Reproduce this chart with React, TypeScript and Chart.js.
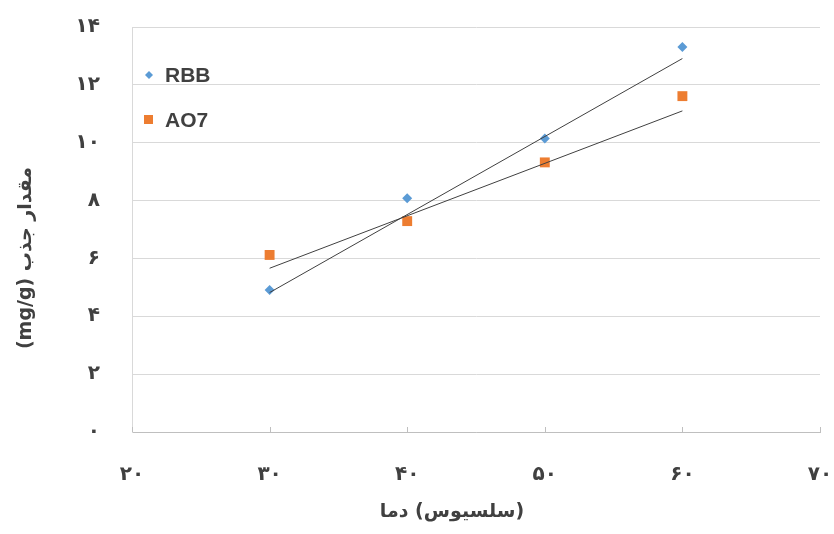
import React, { useEffect, useRef } from "react";
import { Chart, registerables } from "chart.js";

Chart.register(...registerables);

const temperatures = [30, 40, 50, 60];
const rbbValues = [4.91, 8.08, 10.15, 13.31];
const ao7Values = [6.12, 7.29, 9.32, 11.61];
const trendX = [30, 60];
const rbbTrend = [4.82, 12.91];
const ao7Trend = [5.66, 11.1];
const persianDigits = ["۰", "۱", "۲", "۳", "۴", "۵", "۶", "۷", "۸", "۹"];
const xTitle = "دما (سلسیوس)";
const yTitle = "مقدار جذب (mg/g)";
const seriesNames = ["RBB", "AO7"];

const BLUE = "#5b9bd5";
const ORANGE = "#ed7d31";
const TEXT = "#404040";

const toPersian = (v: number | string) =>
  String(v).replace(/[0-9]/g, (d) => persianDigits[Number(d)]);

const zeroPad = (s: any) => {
  s.paddingTop = 0;
  s.paddingBottom = 0;
  s.paddingLeft = 0;
  s.paddingRight = 0;
};

const decorPlugin = {
  id: "decor",
  afterDraw(chart: any) {
    const ctx = chart.ctx;
    const xs = chart.scales.x;
    const area = chart.chartArea;
    ctx.save();
    // small upward tick marks on the x axis
    ctx.strokeStyle = "#bfbfbf";
    ctx.lineWidth = 1;
    xs.ticks.forEach((t: any) => {
      const px = Math.round(xs.getPixelForValue(t.value)) + 0.5;
      ctx.beginPath();
      ctx.moveTo(px, area.bottom);
      ctx.lineTo(px, area.bottom - 5);
      ctx.stroke();
    });
    // legend
    const lx = 149, ly1 = 75, ly2 = 120;
    ctx.fillStyle = BLUE;
    ctx.beginPath();
    ctx.moveTo(lx - 4, ly1);
    ctx.lineTo(lx, ly1 - 4);
    ctx.lineTo(lx + 4, ly1);
    ctx.lineTo(lx, ly1 + 4);
    ctx.closePath();
    ctx.fill();
    ctx.fillStyle = ORANGE;
    ctx.fillRect(lx - 5, ly2 - 5, 9, 9);
    ctx.fillStyle = TEXT;
    ctx.font = "bold 21px 'Liberation Sans', Arial, sans-serif";
    ctx.textAlign = "left";
    ctx.textBaseline = "middle";
    ctx.fillText(seriesNames[0], 165, ly1 + 1);
    ctx.fillText(seriesNames[1], 165, ly2 + 1);
    // axis titles
    ctx.font = "bold 19px 'DejaVu Sans', sans-serif";
    ctx.textAlign = "center";
    ctx.direction = "ltr";
    ctx.fillText(xTitle.replace(" ", "\u200E "), 452, 512);
    ctx.direction = "rtl";
    ctx.translate(26, 258);
    ctx.rotate(-Math.PI / 2);
    ctx.fillText(yTitle, 0, 0);
    ctx.restore();
  },
};

export default function App() {
  const ref = useRef<HTMLCanvasElement>(null);
  useEffect(() => {
    document.body.style.margin = "0";
    const rbbPts = temperatures.map((x, i) => ({ x, y: rbbValues[i] }));
    const ao7Pts = temperatures.map((x, i) => ({ x, y: ao7Values[i] }));
    const rbbLine = trendX.map((x, i) => ({ x, y: rbbTrend[i] }));
    const ao7Line = trendX.map((x, i) => ({ x, y: ao7Trend[i] }));
    const tickFont = { family: "'DejaVu Sans', sans-serif", size: 20, weight: "bold" as const };
    const chart = new Chart(ref.current!, {
      type: "scatter",
      data: {
        datasets: [
          { label: "RBB trend", data: rbbLine, showLine: true, borderColor: "#404040", borderWidth: 1, pointRadius: 0 },
          { label: "AO7 trend", data: ao7Line, showLine: true, borderColor: "#404040", borderWidth: 1, pointRadius: 0 },
          { label: seriesNames[0], data: rbbPts, pointStyle: "rectRot", pointRadius: 5, backgroundColor: BLUE, borderColor: BLUE, borderWidth: 0 },
          { label: seriesNames[1], data: ao7Pts, pointStyle: "rect", pointRadius: 7, backgroundColor: ORANGE, borderColor: ORANGE, borderWidth: 0 },
        ],
      },
      options: {
        animation: false,
        responsive: true,
        maintainAspectRatio: false,
        layout: { padding: { top: 27, right: 14, left: 0, bottom: 0 } },
        plugins: { legend: { display: false }, tooltip: { enabled: false } },
        scales: {
          x: {
            type: "linear",
            min: 20,
            max: 70,
            afterFit: (s: any) => { s.height = 102; zeroPad(s); },
            ticks: { stepSize: 10, padding: 31, color: TEXT, font: tickFont, callback: (v: any) => toPersian(v) },
            grid: { display: true, drawOnChartArea: false, drawTicks: false },
            border: { display: true, color: "#bfbfbf", width: 1 },
          },
          y: {
            min: 0,
            max: 14,
            afterFit: (s: any) => { s.width = 132; zeroPad(s); },
            ticks: { stepSize: 2, padding: 32, color: TEXT, font: tickFont, callback: (v: any) => toPersian(v) },
            grid: { color: "#d9d9d9", drawTicks: false },
            border: { display: true, color: "#d9d9d9", width: 1 },
          },
        },
      },
      plugins: [decorPlugin],
    });
    return () => chart.destroy();
  }, []);
  return (
    <div style={{ width: 834, height: 534, position: "relative" }}>
      <canvas ref={ref} />
    </div>
  );
}
